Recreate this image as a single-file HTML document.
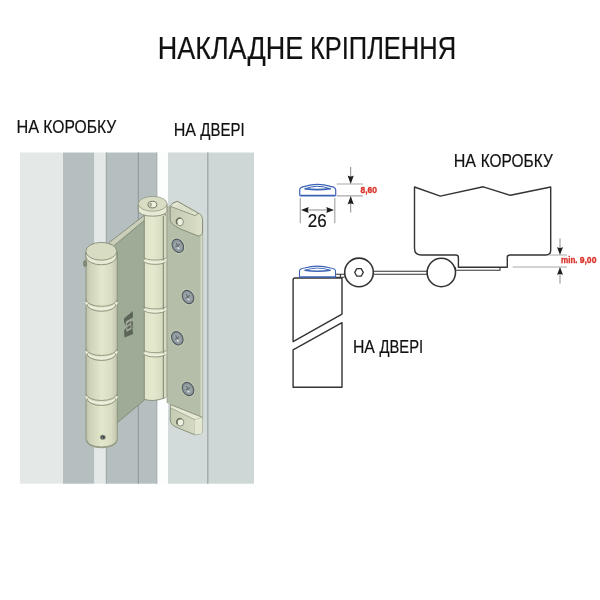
<!DOCTYPE html>
<html><head><meta charset="utf-8">
<style>
html,body{margin:0;padding:0;background:#fff;width:600px;height:600px;overflow:hidden}
svg{display:block;position:absolute;left:0;top:0;will-change:transform}
text{font-family:"Liberation Sans",sans-serif}
</style></head>
<body>
<svg width="600" height="600" viewBox="0 0 600 600">
<rect width="600" height="600" fill="#fff"/>
<!-- texts -->
<g fill="#111" stroke="#111" stroke-width="0.2">
<text x="157.78" y="58.75" font-size="30.5" textLength="145.39" lengthAdjust="spacingAndGlyphs">НАКЛАДНЕ</text>
<text x="309.91" y="58.75" font-size="30.5" textLength="146.17" lengthAdjust="spacingAndGlyphs">КРІПЛЕННЯ</text>
<text x="16.56" y="132.8" font-size="18.6" textLength="22.67" lengthAdjust="spacingAndGlyphs">НА</text>
<text x="43.32" y="132.8" font-size="18.6" textLength="72.85" lengthAdjust="spacingAndGlyphs">КОРОБКУ</text>
<text x="173.68" y="135.8" font-size="18.46" textLength="22.35" lengthAdjust="spacingAndGlyphs">НА</text>
<text x="200.29" y="135.8" font-size="18.46" textLength="44.29" lengthAdjust="spacingAndGlyphs">ДВЕРІ</text>
<text x="453.68" y="166.8" font-size="18.5" textLength="22.35" lengthAdjust="spacingAndGlyphs">НА</text>
<text x="480.74" y="166.8" font-size="18.5" textLength="71.99" lengthAdjust="spacingAndGlyphs">КОРОБКУ</text>
<text x="352.91" y="352.7" font-size="18.17" textLength="21.93" lengthAdjust="spacingAndGlyphs">НА</text>
<text x="379.49" y="352.7" font-size="18.17" textLength="43.67" lengthAdjust="spacingAndGlyphs">ДВЕРІ</text>
<text x="307.85" y="227" font-size="17.62" textLength="18.9" lengthAdjust="spacingAndGlyphs">26</text>
</g>
<g fill="#d9342b" stroke="#d9342b" stroke-width="0.35" font-weight="bold">
<text x="360.48" y="192.75" font-size="9.31" textLength="16.62" lengthAdjust="spacingAndGlyphs">8,60</text>
<text x="560.97" y="263.3" font-size="9.5" textLength="16.59" lengthAdjust="spacingAndGlyphs">min.</text>
<text x="579.7" y="263.3" font-size="9.5" textLength="16.75" lengthAdjust="spacingAndGlyphs">9,00</text>
</g>

<!-- background strips of left image -->
<g>
<rect x="20" y="152.5" width="43" height="331.2" fill="#e4e8e7"/>
<rect x="63" y="152.5" width="31.5" height="331.2" fill="#b6bfc0"/>
<rect x="94.5" y="152.5" width="12" height="331.2" fill="#e4e8e7"/>
<rect x="106" y="152.5" width="51.5" height="331.2" fill="#b6bfc0"/>
<rect x="105.8" y="152.5" width="0.9" height="331.2" fill="#9aa3a4"/>
<rect x="137.8" y="152.5" width="1" height="331.2" fill="#8a9495"/>
<rect x="156.5" y="152.5" width="1" height="331.2" fill="#9ea7a8"/>
<rect x="157.5" y="152.5" width="10.5" height="331.2" fill="#fcfdfd"/>
<rect x="168" y="152.5" width="40" height="331.2" fill="#d2dbda"/>
<rect x="208" y="152.5" width="46" height="331.2" fill="#cdd7d6"/>
<rect x="207.2" y="152.5" width="1.2" height="331.2" fill="#9aa4a4"/>
</g>
<!-- right technical diagram -->
<g fill="none" stroke="#333" stroke-width="1.4" stroke-linejoin="round">
<!-- frame -->
<path d="M414.5,187 L440.3,196.1 L483.3,186.8 L510.4,195.3 L550.7,187 V250.3 Q550.7,255 546,255 H509.7 Q507.3,255 507.3,257.4 V267.3 H458.4 V257.4 Q458.4,255 456,255 H421.3 Q414.5,255 414.5,248.2 Z"/>
<!-- door -->
<path d="M293.1,341.7 L293.1,280 Q293.1,278 295,278 L342,278 L342,314.1 Z"/>
<path d="M342,322.7 L293.1,349.8 L293.1,387.3 L342,387.3 Z"/>
<circle cx="359" cy="272.4" r="14.3" stroke-width="1.6"/>
<circle cx="441.3" cy="272.5" r="14.2" stroke-width="1.6"/>
<path d="M354.7,272.4 l2.15,-3.8 h4.3 l2.15,3.8 l-2.15,3.8 h-4.3 z" stroke-width="1.3"/>
</g>
<g fill="none" stroke="#333" stroke-width="1.1">
<path d="M373.3,271.3 H427.2 M373.3,274.3 H427.2"/>
<path d="M455.5,270.3 H500 V267.3 M455.5,267.3 V270.3"/>
<path d="M335.5,274.3 H344.6 M335.5,277.2 H344.6 M340.4,274.3 V277.2"/>
</g>
<!-- dims -->
<g stroke="#a8a8a8" stroke-width="1.2" fill="none">
<path d="M300.3,198 V223.3 M334.8,198 V223.3"/>
<path d="M336.7,184 H363 M336.7,195.8 H363"/>
<path d="M549.3,255 H567 M512.7,267 H567"/>
</g>
<g stroke="#8a8a8a" stroke-width="1" fill="none">
<path d="M304,210 H331"/>
<path d="M350.7,167 V178 M350.7,202 V212.5"/>
<path d="M560,238.5 V248 M560,274 V283.5"/>
</g>
<g fill="#1e1e1e">
<path d="M301,210 L308.7,207 Q307,210 308.7,213 Z M334,210 L326.3,207 Q328,210 326.3,213 Z"/>
<path d="M350.7,184 L347.6,175.5 Q350.7,177.5 353.8,175.5 Z M350.7,196 L347.6,204.5 Q350.7,202.5 353.8,204.5 Z"/>
<path d="M560,255 L557,247 Q560,249 563,247 Z M560,267 L557,275 Q560,273 563,275 Z"/>
</g>
<!-- blue caps -->
<g fill="none" stroke="#3b63b6" stroke-width="1.2" stroke-linejoin="round">
<path d="M299.7,195.6 V190 Q299.7,186.9 304.8,186.3 Q317.3,182.6 330.6,186.3 Q335.7,186.9 335.7,190 V195.6"/>
<path d="M299.7,195.6 H335.7" stroke-width="1.7"/>
<path d="M305,188.8 Q317.3,183.8 330.3,188.8" stroke-width="1"/>
<path d="M304.5,188.6 Q317.3,190.6 330.8,188.6" stroke-width="1.7"/>
<path d="M299.5,277 V271 Q299.5,268.6 304.6,268 Q317.5,264.3 330.4,268 Q335.5,268.6 335.5,271 V277" stroke-width="1.1"/>
<path d="M299.5,277 H335.5" stroke-width="1.3"/>
<path d="M305,270.3 Q317.5,265.8 330.2,270.3" stroke-width="0.9"/>
<path d="M304.5,270.2 Q317.5,272.2 330.7,270.2" stroke-width="1.5"/>
</g>

<!-- HINGE -->
<defs>
<linearGradient id="gb" x1="0" x2="1" y1="0" y2="0">
<stop offset="0" stop-color="#bcc2a9"/>
<stop offset="0.12" stop-color="#cdd2b8"/>
<stop offset="0.5" stop-color="#e3e7cc"/>
<stop offset="0.8" stop-color="#d9ddc3"/>
<stop offset="1" stop-color="#bfc5ab"/>
</linearGradient>
<linearGradient id="gr" x1="0" x2="1" y1="0" y2="0">
<stop offset="0" stop-color="#dfe3c8"/>
<stop offset="0.4" stop-color="#e4e8cd"/>
<stop offset="0.8" stop-color="#d8dcc1"/>
<stop offset="1" stop-color="#c7cbb0"/>
</linearGradient>
<linearGradient id="gt" x1="0" x2="1" y1="0" y2="0">
<stop offset="0" stop-color="#c6ccb4"/>
<stop offset="0.6" stop-color="#d1d6bf"/>
<stop offset="1" stop-color="#dde1ca"/>
</linearGradient>
</defs>
<g id="hinge" stroke-linejoin="round">
<!-- left plate -->
<path d="M105,247 L144.5,215.5 L144.5,400 L117,423 L105,423 Z" fill="#9eab96"/>
<path d="M117,423 L144.5,400" stroke="#7c8471" stroke-width="0.8" fill="none"/>
<path d="M109,242.6 L144.5,215.2 L144.5,220.2 L113.3,246.2 Z" fill="#c9cfb8"/>
<path d="M109,242.6 L144.5,215.2 M113.3,246.2 L144.5,220.2" stroke="#717864" stroke-width="0.7" fill="none"/>
<!-- left barrel -->
<path d="M86,252 L86,439 A15.5,8 0 0 0 117.3,439 L117.3,252 Z" fill="url(#gb)" stroke="#858a74" stroke-width="0.8"/>
<path d="M86.5,440 A15.2,7.5 0 0 0 117,440" fill="none" stroke="#9a9f87" stroke-width="1.4"/>
<path d="M85.8,253 L85.8,256 A15.5,8.8 0 0 0 116.8,256 L116.8,253 Z" fill="#e7ead4" stroke="#7a806b" stroke-width="0.8"/>
<ellipse cx="101.3" cy="251.3" rx="15.5" ry="8.9" fill="#d8dcc3" stroke="#7a806b" stroke-width="0.8"/>
<ellipse cx="85" cy="263.5" rx="1.5" ry="3" fill="#8b907c" stroke="#555a4a" stroke-width="0.5"/>
<g fill="none">
<path d="M86,299.5 A15.5,6.8 0 0 0 117,299.5" stroke="#8d927b" stroke-width="0.9"/>
<path d="M86.3,302.0 A15.2,7 0 0 0 116.7,302.0" stroke="#eef0dd" stroke-width="2.1"/>
<path d="M87,304.1 A14.5,7.2 0 0 0 116,304.1" stroke="#7f846e" stroke-width="0.8"/>
<path d="M86,348.7 A15.5,6.8 0 0 0 117,348.7" stroke="#8d927b" stroke-width="0.9"/>
<path d="M86.3,351.2 A15.2,7 0 0 0 116.7,351.2" stroke="#eef0dd" stroke-width="2.1"/>
<path d="M87,353.3 A14.5,7.2 0 0 0 116,353.3" stroke="#7f846e" stroke-width="0.8"/>
<path d="M86,393.7 A15.5,6.8 0 0 0 117,393.7" stroke="#8d927b" stroke-width="0.9"/>
<path d="M86.3,396.2 A15.2,7 0 0 0 116.7,396.2" stroke="#eef0dd" stroke-width="2.1"/>
<path d="M87,398.3 A14.5,7.2 0 0 0 116,398.3" stroke="#7f846e" stroke-width="0.8"/>
</g>
<ellipse cx="102.8" cy="437.3" rx="2.7" ry="2.4" fill="#40474a" stroke="#aeb39b" stroke-width="0.9"/>
<circle cx="102.3" cy="437.8" r="0.8" fill="#9aa3a6"/>
<!-- right barrel -->
<path d="M144.3,214 L144.3,399.3 Q152.5,402 163.4,398.5 L166.1,397.4 L166.1,214 Z" fill="url(#gr)" stroke="#7a806b" stroke-width="0.8"/>
<rect x="163.6" y="216" width="2.6" height="181.5" fill="#d6dcc4"/>
<path d="M163.3,216 V398.5" stroke="#737a65" stroke-width="0.9" fill="none"/>
<path d="M138.3,204 L138.3,211 A14.4,5.2 0 0 0 167.1,211 L167.1,204 Z" fill="#e6e9d3" stroke="#7a806b" stroke-width="0.8"/>
<ellipse cx="152.7" cy="203.8" rx="14.4" ry="7.4" fill="#d9ddc4" stroke="#8a8f78" stroke-width="0.7"/>
<ellipse cx="152.4" cy="204.6" rx="4.4" ry="3.3" fill="#eef0e0" stroke="#6d725f" stroke-width="1"/>
<ellipse cx="150.6" cy="204.6" rx="1.3" ry="2.2" fill="#a5aa93"/>
<g fill="none">
<path d="M144.3,257.4 A10.8,2.6 0 0 0 165.9,257.4" stroke="#8d927b" stroke-width="0.8"/>
<path d="M144.3,260.0 A10.8,3 0 0 0 165.9,259.59999999999997" stroke="#eef0dd" stroke-width="2"/>
<path d="M144.8,261.79999999999995 A10.5,3.2 0 0 0 165.5,261.59999999999997" stroke="#7f846e" stroke-width="0.8"/>
<path d="M144.3,306.3 A10.8,2.6 0 0 0 165.9,306.3" stroke="#8d927b" stroke-width="0.8"/>
<path d="M144.3,308.90000000000003 A10.8,3 0 0 0 165.9,308.5" stroke="#eef0dd" stroke-width="2"/>
<path d="M144.8,310.7 A10.5,3.2 0 0 0 165.5,310.5" stroke="#7f846e" stroke-width="0.8"/>
<path d="M144.3,350 A10.8,2.6 0 0 0 165.9,350" stroke="#8d927b" stroke-width="0.8"/>
<path d="M144.3,352.6 A10.8,3 0 0 0 165.9,352.2" stroke="#eef0dd" stroke-width="2"/>
<path d="M144.8,354.4 A10.5,3.2 0 0 0 165.5,354.2" stroke="#7f846e" stroke-width="0.8"/>
</g>
<!-- right leaf -->
<path d="M167.2,206 L201,214 L201,418 L167.2,403 Z" fill="#b5bea8"/>
<path d="M167.2,206 V403" stroke="#8f967f" stroke-width="0.8"/>
<rect x="200.5" y="220" width="2.2" height="198" fill="#d3d9c4"/>
<path d="M202.7,220 V418" stroke="#9aa08a" stroke-width="0.6"/>
<!-- top tab -->
<path d="M170.2,206.3 Q171,203 177.4,201.4 L197.3,212.6 Q202.5,214.5 202.5,220 L202.5,232 Q202.5,235.9 198,235.9 L180,228.8 Q170.2,224 170.2,219.7 Z" fill="url(#gt)" stroke="#7a806b" stroke-width="0.8"/>
<path d="M170.2,206.3 Q171,203 177.4,201.4 L197.3,212.6 Q199,214 195,215.6 L173.3,207.4 Z" fill="#e3e7d2" stroke="#7d836e" stroke-width="0.8"/>
<path d="M176,206 L194,213.5 M178,204.5 L196,212.5" stroke="#c3c8b1" stroke-width="0.5"/>
<ellipse cx="180" cy="222" rx="3.4" ry="3.8" fill="#eef0e0" stroke="#7f846f" stroke-width="0.9"/>
<path d="M177.2,224 A3.2,3.6 0 0 1 181,218.4" stroke="#6a705c" stroke-width="1.4" fill="none"/>
<!-- bottom tab -->
<path d="M170.5,404.7 L202.5,417.5 L202.5,430.2 Q202.5,434 199.5,434 L195,434.8 L178,428 Q170.2,425 170.2,420 Z" fill="url(#gt)" stroke="#7a806b" stroke-width="0.8"/>
<path d="M170.5,404.7 L202.5,417.5 L195,419.8 L170.5,407.8 Z" fill="#e6e9d5" stroke="#848a74" stroke-width="0.6"/>
<path d="M195,419.8 L195,434.8" stroke="#a4a993" stroke-width="0.5"/>
<path d="M195,419.8 L202.5,417.5 L202.5,430.2 Q202.5,434 199.5,434 L195,434.8 Z" fill="#e3e7d2"/>
<ellipse cx="180.4" cy="422.4" rx="3.4" ry="3.7" fill="#eef0e0" stroke="#7f846f" stroke-width="0.9"/>
<path d="M177.6,424.4 A3.2,3.5 0 0 1 181.4,418.9" stroke="#6a705c" stroke-width="1.4" fill="none"/>
<!-- screws -->
<g transform="translate(177.8,245.8) rotate(-30)">
<ellipse rx="6.6" ry="8.3" fill="#cdd3bb"/>
<ellipse rx="5.4" ry="7" fill="#8a959a" stroke="#4f595d" stroke-width="1.1"/>
<ellipse rx="3.6" ry="4.8" fill="#9ba4a8"/>
<path d="M-2.6,-0.3 H2.6 M0,-3.4 V3" stroke="#657074" stroke-width="1.1"/>
<circle cx="-0.6" cy="2.3" r="1" fill="#e3e8e8"/>
</g>
<g transform="translate(188,297) rotate(-30)">
<ellipse rx="6.6" ry="8.3" fill="#cdd3bb"/>
<ellipse rx="5.4" ry="7" fill="#8a959a" stroke="#4f595d" stroke-width="1.1"/>
<ellipse rx="3.6" ry="4.8" fill="#9ba4a8"/>
<path d="M-2.6,-0.3 H2.6 M0,-3.4 V3" stroke="#657074" stroke-width="1.1"/>
<circle cx="-0.6" cy="2.3" r="1" fill="#e3e8e8"/>
</g>
<g transform="translate(177.3,338.3) rotate(-30)">
<ellipse rx="6.6" ry="8.3" fill="#cdd3bb"/>
<ellipse rx="5.4" ry="7" fill="#8a959a" stroke="#4f595d" stroke-width="1.1"/>
<ellipse rx="3.6" ry="4.8" fill="#9ba4a8"/>
<path d="M-2.6,-0.3 H2.6 M0,-3.4 V3" stroke="#657074" stroke-width="1.1"/>
<circle cx="-0.6" cy="2.3" r="1" fill="#e3e8e8"/>
</g>
<g transform="translate(188,389) rotate(-30)">
<ellipse rx="6.6" ry="8.3" fill="#cdd3bb"/>
<ellipse rx="5.4" ry="7" fill="#8a959a" stroke="#4f595d" stroke-width="1.1"/>
<ellipse rx="3.6" ry="4.8" fill="#9ba4a8"/>
<path d="M-2.6,-0.3 H2.6 M0,-3.4 V3" stroke="#657074" stroke-width="1.1"/>
<circle cx="-0.6" cy="2.3" r="1" fill="#e3e8e8"/>
</g>
<!-- logo -->
<g>
<path d="M124,318.5 L132.8,311 L133,317 L130,320 L133,322 L132.5,329.5 L133.2,334 L124.5,337.5 L124,331 L126.5,327 L124,322 Z" fill="#5d6559"/>
<path d="M125.8,321.5 L131,318.5 L131.5,329 L126.5,332 Z" fill="#a3ac9c"/>
<path d="M127,323.5 L130.3,321 L130.5,323 L127.2,325.5 Z M127.2,327 L130.5,325 L130.6,327.5 L127.4,329.5 Z" fill="#5d6559"/>
</g>
</g>
</svg>
</body></html>
